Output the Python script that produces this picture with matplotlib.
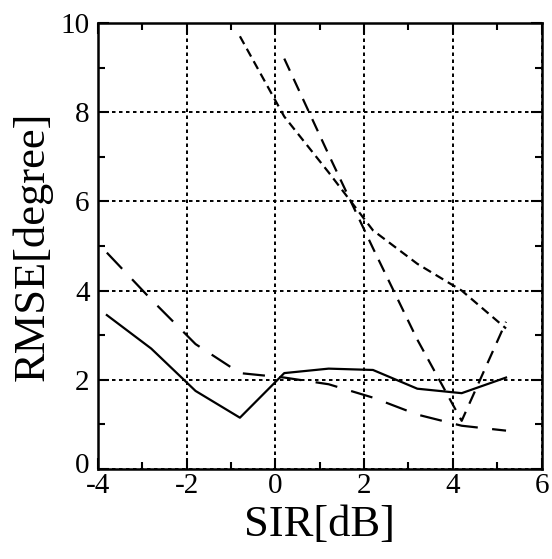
import matplotlib
matplotlib.use("Agg")
import matplotlib.pyplot as plt
import matplotlib.transforms as mtransforms
from matplotlib.ticker import MultipleLocator

plt.rcParams['font.family'] = ['Liberation Serif', 'DejaVu Serif']
plt.rcParams['axes.unicode_minus'] = False

x_all = [-3.8, -2.8, -1.8, -0.8, 0.2, 1.2, 2.2, 3.2, 4.2, 5.2]
solid_y = [3.45, 2.7, 1.75, 1.15, 2.15, 2.25, 2.22, 1.8, 1.7, 2.05]
longdash_y = [4.85, 3.8, 2.8, 2.15, 2.05, 1.9, 1.6, 1.22, 0.97, 0.86]

x_mid = [-0.8, 0.2, 1.2, 2.2, 3.2, 4.2, 5.2]
shortdash_y = [9.7, 7.9, 6.65, 5.35, 4.6, 4.0, 3.15]

x_right = [0.2, 1.2, 2.2, 3.2, 4.2, 5.2]
meddash_y = [9.2, 7.05, 4.95, 2.9, 1.08, 3.3]

xticks = [-4, -2, 0, 2, 4, 6]
yticks = [0, 2, 4, 6, 8, 10]

fig = plt.figure(figsize=(5.52, 5.59), dpi=100)
ax = fig.add_axes([0.1775, 0.161, 0.8035, 0.798])

ax.plot(x_all, solid_y, color='black', lw=1.6, linestyle='-')
ax.plot(x_all, longdash_y, color='black', lw=1.6, dashes=(10, 6.5))
ax.plot(x_mid, shortdash_y, color='black', lw=1.6, dashes=(4, 2.4))
ax.plot(x_right, meddash_y, color='black', lw=1.6, dashes=(6, 4))

ax.set_xlim(-4, 6)
ax.set_ylim(0, 10)
ax.set_xticks(xticks)
ax.set_yticks(yticks)
ax.set_xticklabels([str(t) for t in xticks])
ax.set_yticklabels([str(t) for t in yticks])
ax.xaxis.set_minor_locator(MultipleLocator(1))
ax.yaxis.set_minor_locator(MultipleLocator(1))
ax.tick_params(which='both', direction='in', top=True, right=True, width=1.5, labelsize=21)
ax.tick_params(axis='x', which='both', pad=3)
ax.tick_params(axis='y', which='both', pad=6)
ax.tick_params(which='major', length=8)
ax.tick_params(which='minor', length=5)
for s in ax.spines.values():
    s.set_linewidth(1.8)

# lift the "0" y tick label a little, as in the reference
zero_lbl = ax.get_yticklabels()[0]
zero_lbl.set_transform(zero_lbl.get_transform() +
                       mtransforms.ScaledTranslation(0, 6 / 100, fig.dpi_scale_trans))

ax.grid(True, which='major', color='black', lw=1.4, dashes=(1.8, 1.8))

ax.set_xlabel('SIR[dB]', fontsize=32, labelpad=4)
ax.set_ylabel('RMSE[degree]', fontsize=32, labelpad=6)

fig.savefig('out.png', dpi=100)
